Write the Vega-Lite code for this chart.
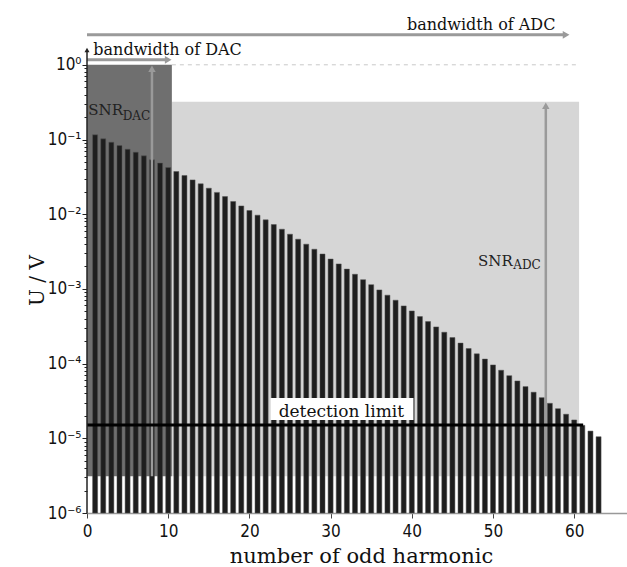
{
  "$schema": "https://vega.github.io/schema/vega-lite/v6.json",
  "autosize": "none",
  "padding": {"left": 87, "top": 20, "right": 0, "bottom": 54},
  "width": 540,
  "height": 493,
  "background": "white",
  "config": {"view": {"stroke": null}},
  "datasets": {
    "regions": [
      {"band": "ADC", "x0": 10.45, "x1": 60.6, "y0": 0.0000031, "y1": 0.32},
      {"band": "DAC", "x0": 0, "x1": 10.45, "y0": 0.0000031, "y1": 1}
    ],
    "bars": [
      {"k": 1, "v": 0.1155}, {"k": 2, "v": 0.102}, {"k": 3, "v": 0.0922}, {"k": 4, "v": 0.083},
      {"k": 5, "v": 0.0743}, {"k": 6, "v": 0.0677}, {"k": 7, "v": 0.0604}, {"k": 8, "v": 0.0534},
      {"k": 9, "v": 0.0483}, {"k": 10, "v": 0.0421}, {"k": 11, "v": 0.0373}, {"k": 12, "v": 0.033},
      {"k": 13, "v": 0.0288}, {"k": 14, "v": 0.0255}, {"k": 15, "v": 0.0223}, {"k": 16, "v": 0.0196},
      {"k": 17, "v": 0.0172}, {"k": 18, "v": 0.0148}, {"k": 19, "v": 0.0129}, {"k": 20, "v": 0.0112},
      {"k": 21, "v": 0.00971}, {"k": 22, "v": 0.0084}, {"k": 23, "v": 0.00727}, {"k": 24, "v": 0.0063},
      {"k": 25, "v": 0.0054}, {"k": 26, "v": 0.00463}, {"k": 27, "v": 0.00397}, {"k": 28, "v": 0.0034},
      {"k": 29, "v": 0.00293}, {"k": 30, "v": 0.00251}, {"k": 31, "v": 0.00216}, {"k": 32, "v": 0.00184},
      {"k": 33, "v": 0.00157}, {"k": 34, "v": 0.00133}, {"k": 35, "v": 0.00114}, {"k": 36, "v": 0.00097},
      {"k": 37, "v": 0.000824}, {"k": 38, "v": 0.000706}, {"k": 39, "v": 0.000592}, {"k": 40, "v": 0.000507},
      {"k": 41, "v": 0.000426}, {"k": 42, "v": 0.000365}, {"k": 43, "v": 0.00031}, {"k": 44, "v": 0.000263},
      {"k": 45, "v": 0.000223}, {"k": 46, "v": 0.000188}, {"k": 47, "v": 0.000159}, {"k": 48, "v": 0.000135},
      {"k": 49, "v": 0.000115}, {"k": 50, "v": 0.000096}, {"k": 51, "v": 0.0000815}, {"k": 52, "v": 0.000069},
      {"k": 53, "v": 0.0000586}, {"k": 54, "v": 0.0000492}, {"k": 55, "v": 0.0000414}, {"k": 56, "v": 0.000035},
      {"k": 57, "v": 0.0000294}, {"k": 58, "v": 0.0000249}, {"k": 59, "v": 0.000021}, {"k": 60, "v": 0.0000176},
      {"k": 61, "v": 0.0000149}, {"k": 62, "v": 0.0000125}, {"k": 63, "v": 0.0000105}
    ],
    "dashed": [{"x": 10.45, "x2": 60.6, "y": 1}],
    "vshafts": [{"x": 8, "y": 0.0000031, "y2": 0.884}, {"x": 56.5, "y": 0.0000031, "y2": 0.283}],
    "vheads": [{"x": 8, "y": 0.884}, {"x": 56.5, "y": 0.283}],
    "hshafts": [{"x": 0, "x2": 59.0, "y": 2.52}, {"x": 0, "x2": 10.0, "y": 1.167}],
    "hheads": [{"x": 59.0, "y": 2.52}, {"x": 10.0, "y": 1.167}],
    "detline": [{"x": 0, "x2": 61.1, "y": 0.0000151}],
    "detbox": [{"x": 22.6, "x2": 40.2, "y": 0.0000176, "y2": 0.0000347}],
    "dettext": [{"t": "detection limit", "x": 23.6, "y": 0.0000195}],
    "bwtext": [{"t": "bandwidth of DAC", "x": 0.78, "y": 1.36}, {"t": "bandwidth of ADC", "x": 39.4, "y": 2.94}],
    "snr": [{"t": "SNR", "x": 0.16, "y": 0.214}, {"t": "SNR", "x": 48.16, "y": 0.00203}],
    "snrsub": [{"t": "DAC", "x": 4.4, "y": 0.183}, {"t": "ADC", "x": 52.5, "y": 0.00184}],
    "yline": [{"x": 0, "y": 0.000001, "y2": 1.58}],
    "yhead": [{"x": 0, "y": 1.58}]
  },
  "resolve": {"axis": {"x": "independent", "y": "independent"}},
  "layer": [
    {
      "data": {"name": "regions"},
      "mark": {"type": "rect"},
      "encoding": {
        "x": {"field": "x0", "type": "quantitative",
          "scale": {"domain": [0, 66.5], "nice": false, "zero": false, "padding": 0},
          "axis": {"values": [0, 10, 20, 30, 40, 50, 60], "title": "number of odd harmonic",
            "titleFont": "DejaVu Serif", "titleFontSize": 21, "titleFontWeight": "normal", "titleColor": "#111",
            "titleX": 274, "titleY": 49, "titleBaseline": "alphabetic", "titleAlign": "center",
            "labelFont": "DejaVu Sans Condensed", "labelFontSize": 17, "labelColor": "#111", "labelPadding": 5,
            "labelFlush": false, "tickSize": 5, "tickColor": "#444", "domainColor": "#999", "domainWidth": 1.5, "grid": false}},
        "x2": {"field": "x1"},
        "y": {"field": "y0", "type": "quantitative",
          "scale": {"type": "log", "domain": [0.000001, 3.98], "nice": false, "padding": 0},
          "axis": {"orient": "left", "values": [0.000001, 0.00001, 0.0001, 0.001, 0.01, 0.1, 1],
            "labelExpr": "'10' + (datum.value >= 0.5 ? '⁰' : '⁻' + ['⁰','¹','²','³','⁴','⁵','⁶'][round(-log(datum.value)/LN10)])",
            "labelFont": "DejaVu Sans Condensed", "labelFontSize": 17, "labelColor": "#111", "labelPadding": 1,
            "tickSize": 5, "tickColor": "#222", "domain": false, "grid": false,
            "title": "U / V", "titleFont": "DejaVu Serif", "titleFontSize": 20, "titleFontWeight": "normal", "titleColor": "#111",
            "titleAngle": 270, "titleX": -50, "titleY": 260, "titleAlign": "center", "titleBaseline": "middle"}},
        "y2": {"field": "y1"},
        "color": {"field": "band", "type": "nominal", "scale": {"domain": ["ADC", "DAC"], "range": ["#d6d6d6", "#6f6f6f"]}, "legend": null}
      }
    },
    {
      "data": {"name": "dashed"},
      "mark": {"type": "rule", "color": "#c8c8c8", "strokeDash": [4, 4], "strokeWidth": 1},
      "encoding": {
        "x": {"field": "x", "type": "quantitative", "axis": null},
        "x2": {"field": "x2"},
        "y": {"field": "y", "type": "quantitative", "axis": null}
      }
    },
    {
      "data": {"name": "bars"},
      "mark": {"type": "bar", "width": 5, "color": "#1e1e1e", "stroke": "#555", "strokeWidth": 0.5},
      "encoding": {
        "x": {"field": "k", "type": "quantitative", "axis": null},
        "y": {"field": "v", "type": "quantitative",
          "axis": {"orient": "left", "values": [0.000002, 0.000003, 0.000004, 0.000005, 0.000006, 0.000007, 0.000008, 0.000009,
            0.00002, 0.00003, 0.00004, 0.00005, 0.00006, 0.00007, 0.00008, 0.00009,
            0.0002, 0.0003, 0.0004, 0.0005, 0.0006, 0.0007, 0.0008, 0.0009,
            0.002, 0.003, 0.004, 0.005, 0.006, 0.007, 0.008, 0.009,
            0.02, 0.03, 0.04, 0.05, 0.06, 0.07, 0.08, 0.09,
            0.2, 0.3, 0.4, 0.5, 0.6, 0.7, 0.8, 0.9],
            "labels": false, "tickSize": 3, "tickColor": "#222", "domain": false, "grid": false, "title": null}},
        "y2": {"datum": 0.000001}
      }
    },
    {
      "data": {"name": "vshafts"},
      "mark": {"type": "rule", "color": "#9a9a9a", "strokeWidth": 2.5},
      "encoding": {
        "x": {"field": "x", "type": "quantitative", "axis": null},
        "y": {"field": "y", "type": "quantitative", "axis": null},
        "y2": {"field": "y2"}
      }
    },
    {
      "data": {"name": "vheads"},
      "mark": {"type": "point", "shape": "triangle-up", "filled": true, "size": 55, "color": "#9a9a9a", "opacity": 1},
      "encoding": {
        "x": {"field": "x", "type": "quantitative", "axis": null},
        "y": {"field": "y", "type": "quantitative", "axis": null}
      }
    },
    {
      "data": {"name": "hshafts"},
      "mark": {"type": "rule", "color": "#9a9a9a", "strokeWidth": 3},
      "encoding": {
        "x": {"field": "x", "type": "quantitative", "axis": null},
        "x2": {"field": "x2"},
        "y": {"field": "y", "type": "quantitative", "axis": null}
      }
    },
    {
      "data": {"name": "hheads"},
      "mark": {"type": "point", "shape": "triangle-right", "filled": true, "size": 60, "color": "#9a9a9a", "opacity": 1},
      "encoding": {
        "x": {"field": "x", "type": "quantitative", "axis": null},
        "y": {"field": "y", "type": "quantitative", "axis": null}
      }
    },
    {
      "data": {"name": "detline"},
      "mark": {"type": "rule", "color": "#000000", "strokeWidth": 3},
      "encoding": {
        "x": {"field": "x", "type": "quantitative", "axis": null},
        "x2": {"field": "x2"},
        "y": {"field": "y", "type": "quantitative", "axis": null}
      }
    },
    {
      "data": {"name": "detbox"},
      "mark": {"type": "rect", "color": "#ffffff"},
      "encoding": {
        "x": {"field": "x", "type": "quantitative", "axis": null},
        "x2": {"field": "x2"},
        "y": {"field": "y", "type": "quantitative", "axis": null},
        "y2": {"field": "y2"}
      }
    },
    {
      "data": {"name": "dettext"},
      "mark": {"type": "text", "font": "DejaVu Serif", "fontSize": 17, "align": "left", "baseline": "alphabetic", "color": "#111"},
      "encoding": {
        "x": {"field": "x", "type": "quantitative", "axis": null},
        "y": {"field": "y", "type": "quantitative", "axis": null},
        "text": {"field": "t"}
      }
    },
    {
      "data": {"name": "bwtext"},
      "mark": {"type": "text", "font": "DejaVu Serif", "fontSize": 16, "align": "left", "baseline": "alphabetic", "color": "#111"},
      "encoding": {
        "x": {"field": "x", "type": "quantitative", "axis": null},
        "y": {"field": "y", "type": "quantitative", "axis": null},
        "text": {"field": "t"}
      }
    },
    {
      "data": {"name": "snr"},
      "mark": {"type": "text", "font": "DejaVu Serif", "fontSize": 15, "align": "left", "baseline": "alphabetic", "color": "#222"},
      "encoding": {
        "x": {"field": "x", "type": "quantitative", "axis": null},
        "y": {"field": "y", "type": "quantitative", "axis": null},
        "text": {"field": "t"}
      }
    },
    {
      "data": {"name": "snrsub"},
      "mark": {"type": "text", "font": "DejaVu Serif", "fontSize": 12, "align": "left", "baseline": "alphabetic", "color": "#222"},
      "encoding": {
        "x": {"field": "x", "type": "quantitative", "axis": null},
        "y": {"field": "y", "type": "quantitative", "axis": null},
        "text": {"field": "t"}
      }
    },
    {
      "data": {"name": "yline"},
      "mark": {"type": "rule", "color": "#222", "strokeWidth": 1.5},
      "encoding": {
        "x": {"field": "x", "type": "quantitative", "axis": null},
        "y": {"field": "y", "type": "quantitative", "axis": null},
        "y2": {"field": "y2"}
      }
    },
    {
      "data": {"name": "yhead"},
      "mark": {"type": "point", "shape": "triangle-up", "filled": true, "size": 25, "color": "#222", "opacity": 1},
      "encoding": {
        "x": {"field": "x", "type": "quantitative", "axis": null},
        "y": {"field": "y", "type": "quantitative", "axis": null}
      }
    }
  ]
}
